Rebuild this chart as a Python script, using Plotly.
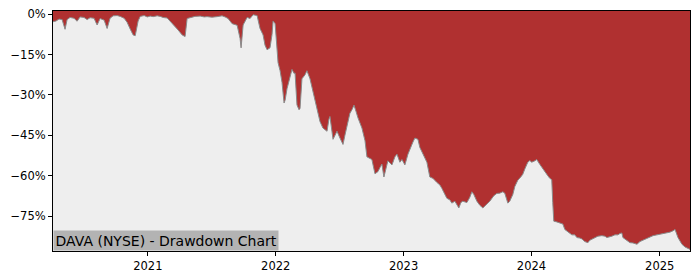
import datetime as dt
import plotly.graph_objects as go

# Time in decimal years
t_years = [
    2020.260, 2020.284, 2020.307, 2020.331, 2020.354, 2020.370, 2020.393, 2020.424, 2020.448, 2020.471,
    2020.502, 2020.526, 2020.549, 2020.580, 2020.604, 2020.627, 2020.659, 2020.682, 2020.705, 2020.729,
    2020.760, 2020.784, 2020.815, 2020.838, 2020.862, 2020.885, 2020.901, 2020.924, 2020.940, 2020.971,
    2020.995, 2021.018, 2021.041, 2021.073, 2021.096, 2021.119, 2021.151, 2021.174, 2021.205, 2021.237,
    2021.268, 2021.291, 2021.307, 2021.330, 2021.369, 2021.409, 2021.440, 2021.463, 2021.502, 2021.541,
    2021.580, 2021.604, 2021.627, 2021.659, 2021.698, 2021.721, 2021.729, 2021.745, 2021.776, 2021.799,
    2021.823, 2021.854, 2021.877, 2021.901, 2021.916, 2021.932, 2021.955, 2021.971, 2021.979, 2021.995,
    2022.010, 2022.018, 2022.034, 2022.049, 2022.065, 2022.073, 2022.088, 2022.112, 2022.127, 2022.143,
    2022.151, 2022.166, 2022.182, 2022.190, 2022.205, 2022.229, 2022.244, 2022.268, 2022.291, 2022.307,
    2022.323, 2022.346, 2022.369, 2022.385, 2022.401, 2022.416, 2022.424, 2022.448, 2022.463, 2022.479,
    2022.502, 2022.526, 2022.541, 2022.557, 2022.580, 2022.596, 2022.612, 2022.627, 2022.643, 2022.674,
    2022.698, 2022.713, 2022.737, 2022.752, 2022.776, 2022.799, 2022.815, 2022.830, 2022.846, 2022.862,
    2022.877, 2022.909, 2022.932, 2022.948, 2022.971, 2022.987, 2023.010, 2023.034, 2023.049, 2023.073,
    2023.088, 2023.112, 2023.127, 2023.151, 2023.182, 2023.205, 2023.229, 2023.260, 2023.284, 2023.299,
    2023.323, 2023.338, 2023.362, 2023.377, 2023.401, 2023.416, 2023.432, 2023.448, 2023.463, 2023.495,
    2023.518, 2023.534, 2023.549, 2023.573, 2023.596, 2023.620, 2023.651, 2023.674, 2023.705, 2023.729,
    2023.752, 2023.776, 2023.791, 2023.815, 2023.830, 2023.854, 2023.870, 2023.893, 2023.916, 2023.932,
    2023.948, 2023.971, 2023.987, 2024.002, 2024.026, 2024.041, 2024.065, 2024.088, 2024.104, 2024.127,
    2024.143, 2024.158, 2024.166, 2024.174, 2024.198, 2024.221, 2024.245, 2024.260, 2024.276, 2024.299,
    2024.315, 2024.338, 2024.354, 2024.377, 2024.393, 2024.416, 2024.440, 2024.455, 2024.479, 2024.494,
    2024.518, 2024.549, 2024.573, 2024.588, 2024.612, 2024.627, 2024.651, 2024.674, 2024.690, 2024.705,
    2024.713, 2024.745, 2024.768, 2024.791, 2024.823, 2024.846, 2024.870, 2024.901, 2024.924, 2024.948,
    2024.979, 2025.002, 2025.026, 2025.057, 2025.080, 2025.104, 2025.120, 2025.143, 2025.159, 2025.174,
    2025.198, 2025.213, 2025.229, 2025.237,
]

# Drawdown in percent
drawdown_pct = [
    -2.8, -2.5, -1.8, -2.0, -5.6, -2.0, -1.2, -1.5, -2.6, -1.0,
    -1.2, -2.0, -1.3, -1.5, -4.0, -1.6, -2.2, -5.3, -1.5, -0.6,
    -0.5, -0.8, -1.5, -3.0, -5.5, -7.7, -8.0, -2.5, -0.8, -0.5,
    -1.0, -0.7, -0.9, -0.6, -0.8, -1.2, -1.4, -2.5, -4.0, -5.9,
    -7.7, -8.3, -1.6, -1.2, -0.8, -0.7, -1.0, -0.9, -1.1, -0.9,
    -0.6, -1.0, -1.6, -3.5, -4.1, -9.0, -12.5, -4.0, -1.2, -1.6,
    -0.2, -0.5, -5.3, -7.7, -11.5, -13.2, -12.5, -7.5, -2.5, -3.5,
    -12.0, -18.0, -21.0, -25.3, -33.0, -32.0, -27.7, -23.0, -20.5, -22.0,
    -21.8, -33.7, -35.5, -35.0, -24.0, -22.5, -21.0, -24.0, -29.0, -32.5,
    -36.2, -39.9, -42.3, -43.0, -43.5, -39.0, -38.0, -46.5, -45.0, -43.5,
    -46.0, -48.4, -45.0, -42.0, -36.8, -35.5, -33.8, -36.0, -38.5, -42.3,
    -47.0, -53.0, -53.5, -54.0, -59.3, -58.5, -57.0, -55.7, -60.5, -57.0,
    -54.5, -56.0, -53.0, -52.0, -55.0, -54.0, -56.0, -52.0, -50.0, -47.5,
    -46.0, -46.5, -49.5, -52.0, -55.0, -60.5, -61.0, -62.5, -63.5, -64.7,
    -67.2, -68.4, -69.0, -70.2, -69.5, -71.0, -72.0, -70.0, -69.5, -70.0,
    -68.0, -66.0, -67.0, -69.5, -71.0, -72.0, -70.5, -69.5, -67.5, -66.6,
    -66.5, -66.0, -66.5, -70.2, -69.5, -67.0, -64.0, -61.7, -60.5, -59.5,
    -57.5, -55.0, -54.4, -55.0, -54.5, -54.0, -55.8, -57.5, -58.7, -60.0,
    -61.0, -61.5, -70.0, -76.9, -77.2, -77.5, -78.0, -80.0, -80.5, -81.5,
    -82.0, -82.0, -83.0, -83.2, -83.5, -84.5, -84.9, -84.0, -83.5, -83.0,
    -82.5, -82.3, -82.5, -83.0, -82.8, -82.5, -82.0, -82.0, -81.5, -81.3,
    -83.0, -84.0, -84.9, -85.0, -85.5, -84.5, -84.0, -83.5, -83.0, -82.3,
    -82.0, -81.8, -81.5, -81.3, -81.0, -80.5, -80.0, -83.0, -84.5, -85.5,
    -86.5, -86.8, -87.3, -87.4,
]

y_tick_vals = [0, -15, -30, -45, -60, -75]
y_tick_text = ["0%", "\u221215%", "\u221230%", "\u221245%", "\u221260%", "\u221275%"]
x_tick_years = [2021, 2022, 2023, 2024, 2025]
title_text = "DAVA (NYSE) - Drawdown Chart"

Y_MIN, Y_MAX = -88.0, 1.2


def to_date(t):
    y = int(t)
    start = dt.datetime(y, 1, 1)
    days = (dt.datetime(y + 1, 1, 1) - start).days
    return start + dt.timedelta(days=(t - y) * days)


dates = [to_date(t) for t in t_years]
baseline = [Y_MIN] * len(dates)

RED = "#b03030"
GRAY_BG = "#eeeeee"

fig = go.Figure()
fig.add_trace(go.Scatter(x=dates, y=baseline, mode="lines",
                         line=dict(width=0, color=GRAY_BG), hoverinfo="skip",
                         showlegend=False))
fig.add_trace(go.Scatter(x=dates, y=drawdown_pct, mode="lines",
                         line=dict(width=1, color="#8a8a8a"),
                         fill="tonexty", fillcolor=GRAY_BG, showlegend=False))

fig.update_layout(
    width=700, height=280,
    margin=dict(l=53, r=10, t=7, b=28),
    paper_bgcolor="white",
    plot_bgcolor=RED,
    font=dict(family="DejaVu Sans", size=11.5, color="black"),
    xaxis=dict(
        type="date",
        range=[dates[0], dates[-1]],
        tickvals=[dt.datetime(y, 1, 1) for y in x_tick_years],
        ticktext=[str(y) for y in x_tick_years],
        showgrid=False, zeroline=False,
        showline=True, linecolor="black", linewidth=1, mirror=True,
        ticks="outside", ticklen=4, tickcolor="black", tickwidth=1,
    ),
    yaxis=dict(
        range=[Y_MIN, Y_MAX],
        tickvals=y_tick_vals, ticktext=y_tick_text,
        showgrid=False, zeroline=False,
        showline=True, linecolor="black", linewidth=1, mirror=True,
        ticks="outside", ticklen=4, tickcolor="black", tickwidth=1,
    ),
    annotations=[dict(
        text=title_text, xref="paper", yref="paper", x=0, y=0,
        xanchor="left", yanchor="bottom", showarrow=False,
        font=dict(family="DejaVu Sans", size=14, color="black"),
        bgcolor="#b3b3b3", borderpad=1.5,
    )],
)

fig.write_html("out.html")
